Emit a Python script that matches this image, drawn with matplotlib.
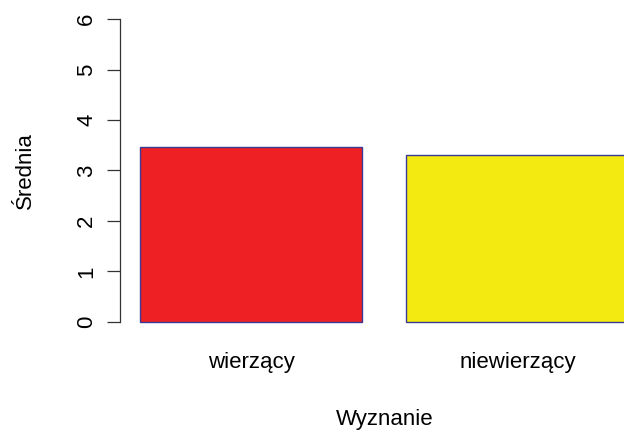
import matplotlib
matplotlib.use("Agg")
import matplotlib.pyplot as plt
import matplotlib.transforms as mtransforms

categories = ["wierzący", "niewierzący"]
means = [3.46, 3.31]
bar_colors = ["#EE2024", "#F2EA10"]
yticks = [0, 1, 2, 3, 4, 5, 6]

plt.rcParams["font.family"] = ["Liberation Sans", "DejaVu Sans"]

fig = plt.figure(figsize=(6.24, 4.33), dpi=100)
ax = fig.add_axes([0.1931, 0.2284, 0.8454, 0.7557])

# barplot-style layout: width 1, gap 0.2
lefts = [0.2 + i * 1.2 for i in range(len(categories))]
centers = [l + 0.5 for l in lefts]
ax.bar(lefts, means, width=1.0, align="edge", color=bar_colors,
       edgecolor="#3a3a94", linewidth=1.0)

ax.set_xlim(0.112, 2.488)
ax.set_ylim(-0.24, 6.24)

for s in ["top", "right", "bottom"]:
    ax.spines[s].set_visible(False)
ax.spines["left"].set_bounds(0, 6)
ax.spines["left"].set_color("#333333")
ax.spines["left"].set_linewidth(0.9)

ax.set_yticks(yticks)
ax.set_yticklabels([str(t) for t in yticks], rotation=90, va="center",
                   fontsize=16)
ax.tick_params(axis="y", length=9.7, width=0.9, color="#333333", pad=7)

ax.set_xticks(centers)
ax.set_xticklabels(categories, fontsize=16)
ax.tick_params(axis="x", length=0, pad=13)

# axis titles: one coordinate in figure space, the other in axes space
ax.set_ylabel("Średnia", fontsize=16, va="center")
ax.yaxis.set_label_coords(
    25 / 624, 0.5,
    transform=mtransforms.blended_transform_factory(fig.transFigure, ax.transAxes))
ax.set_xlabel("Wyznanie", fontsize=16, va="center")
ax.xaxis.set_label_coords(
    0.5, (433 - 420) / 433,
    transform=mtransforms.blended_transform_factory(ax.transAxes, fig.transFigure))

fig.savefig("out.png", dpi=100)
